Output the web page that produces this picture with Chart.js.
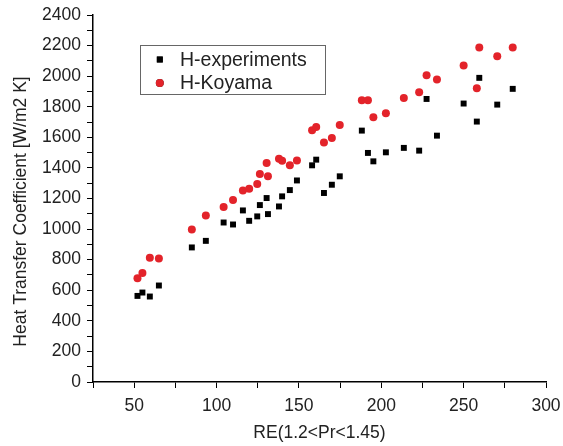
<!DOCTYPE html>
<html>
<head>
<meta charset="utf-8">
<script src="https://cdn.jsdelivr.net/npm/chart.js@4.4.0/dist/chart.umd.min.js"></script>
<style>
  html, body { margin: 0; padding: 0; background: #fff; }
  #wrap { width: 563px; height: 446px; position: relative; }
</style>
</head>
<body>
<div id="wrap"><canvas id="chart"></canvas></div>
<script>
// Reynolds numbers (x)
const reValues = [52, 55, 59.5, 65, 85, 93.5, 104.3, 110, 116, 119.8, 124.7, 126.3, 130.4, 131.2,
    137.9, 139.8, 144.5, 148.8, 158, 160.5, 165.2, 170, 174.8, 188.2, 191.9, 195.2, 202.8, 213.7,
    223, 227.5, 233.8, 250, 258, 259.5, 270.4, 279.8];

const hExperiments = [563, 585, 559, 631, 880, 923, 1043, 1030, 1122, 1054, 1083, 1157, 1203, 1098,
    1148, 1214, 1255, 1318, 1417, 1454, 1236, 1290, 1345, 1644, 1498, 1443, 1502, 1531,
    1513, 1851, 1611, 1821, 1703, 1989, 1814, 1917];

const hKoyama = [679, 712, 812, 807, 997, 1089, 1144, 1190, 1253, 1264, 1295, 1360, 1432, 1345,
    1460, 1447, 1417, 1449, 1646, 1668, 1567, 1596, 1681, 1842, 1842, 1731, 1757, 1858,
    1895, 2006, 1978, 2069, 1921, 2187, 2130, 2187];

const seriesNames = ['H-experiments', 'H-Koyama'];
const xTickLabels = [50, 100, 150, 200, 250, 300];
const yTickLabels = [0, 200, 400, 600, 800, 1000, 1200, 1400, 1600, 1800, 2000, 2200, 2400];
const yTitle = 'Heat Transfer Coefficient [W/m2 K]';

const textColor = '#222';
const fontFamily = 'Arial, "Liberation Sans", sans-serif';

function toPoints(ys) {
    return reValues.map((x, i) => ({ x: x, y: ys[i] }));
}

// legend drawn inside the plot with a thin frame, like the original
const boxLegend = {
    id: 'boxLegend',
    afterDraw(chart) {
        const ctx = chart.ctx;
        ctx.save();
        ctx.strokeStyle = '#666';
        ctx.lineWidth = 1;
        ctx.strokeRect(140.5, 45.5, 185, 49);
        ctx.font = '19.5px ' + fontFamily;
        ctx.textBaseline = 'middle';
        chart.data.datasets.forEach((ds, i) => {
            const y = 59.5 + i * 23.5;
            Chart.helpers.drawPoint(ctx, {
                pointStyle: ds.pointStyle,
                radius: ds.pointRadius,
                borderWidth: 0
            }, 159.8, y);
            ctx.fillStyle = ds.backgroundColor;
            ctx.fill();
            ctx.fillStyle = textColor;
            ctx.fillText(ds.label, 180, y + 1);
        });
        ctx.restore();
    }
};

// y title sits a bit below the middle of the axis in the original
const yTitlePlugin = {
    id: 'yTitlePlugin',
    afterDraw(chart) {
        const ctx = chart.ctx;
        ctx.save();
        ctx.translate(21, 211.5);
        ctx.rotate(-Math.PI / 2);
        ctx.font = '17.5px ' + fontFamily;
        ctx.fillStyle = textColor;
        ctx.textAlign = 'center';
        ctx.textBaseline = 'middle';
        ctx.fillText(yTitle, 0, 0);
        ctx.restore();
    }
};

const ctx = document.getElementById('chart').getContext('2d');
new Chart(ctx, {
    type: 'scatter',
    data: {
        datasets: [{
            label: seriesNames[0],
            data: toPoints(hExperiments),
            pointStyle: 'rect',
            pointRadius: 4.2,
            pointHoverRadius: 4.2,
            backgroundColor: '#000',
            borderColor: '#000',
            borderWidth: 0
        }, {
            label: seriesNames[1],
            data: toPoints(hKoyama),
            pointStyle: 'circle',
            pointRadius: 4,
            pointHoverRadius: 4,
            backgroundColor: '#e3232a',
            borderColor: '#e3232a',
            borderWidth: 0
        }]
    },
    options: {
        responsive: true,
        maintainAspectRatio: false,
        animation: false,
        layout: { padding: { left: 0, right: 17, top: 15, bottom: 0 } },
        plugins: {
            legend: { display: false },
            tooltip: { enabled: false }
        },
        scales: {
            x: {
                type: 'linear',
                min: 25,
                max: 300,
                afterFit(scale) {
                    scale.height = 64;
                    scale.paddingLeft = 0;
                    scale.paddingRight = 0;
                },
                grid: { drawOnChartArea: false, drawTicks: true, tickLength: 6, color: '#000', tickColor: '#000' },
                border: { display: true, color: '#000', width: 1.5 },
                ticks: {
                    stepSize: 25,
                    autoSkip: false,
                    maxRotation: 0,
                    padding: 8,
                    color: textColor,
                    font: { size: 17.5, family: fontFamily },
                    callback: v => xTickLabels.includes(v) ? v : ''
                },
                title: {
                    display: true,
                    text: 'RE(1.2<Pr<1.45)',
                    color: textColor,
                    font: { size: 17.5, family: fontFamily },
                    padding: { top: 0, bottom: 2 }
                }
            },
            y: {
                min: 0,
                max: 2400,
                afterFit(scale) {
                    scale.width = 93;
                    scale.paddingTop = 0;
                    scale.paddingBottom = 0;
                },
                grid: { drawOnChartArea: false, drawTicks: true, tickLength: 6, color: '#000', tickColor: '#000' },
                border: { display: true, color: '#000', width: 1.5 },
                ticks: {
                    stepSize: 100,
                    autoSkip: false,
                    padding: 6,
                    color: textColor,
                    font: { size: 17.5, family: fontFamily },
                    callback: v => yTickLabels.includes(v) ? v : ''
                },
                title: { display: false }
            }
        }
    },
    plugins: [boxLegend, yTitlePlugin]
});
</script>
</body>
</html>
